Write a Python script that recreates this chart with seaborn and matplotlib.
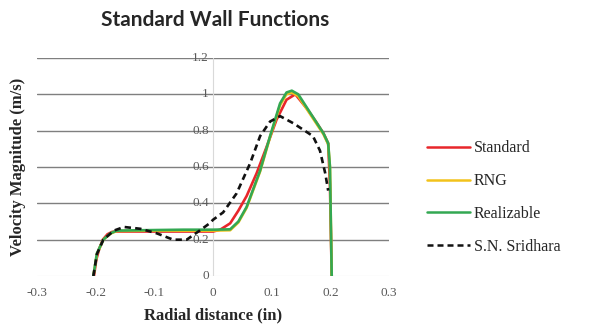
import matplotlib
matplotlib.use("Agg")
import matplotlib.pyplot as plt
import seaborn as sns
import pandas as pd

std_x = [-0.203, -0.199, -0.194, -0.188, -0.18, -0.172, -0.165, -0.1, -0.05, 0.0, 0.012, 0.029,
         0.043, 0.057, 0.074, 0.091, 0.108, 0.125, 0.14, 0.16, 0.175, 0.188, 0.196, 0.199, 0.202]
std_y = [0.0, 0.09, 0.15, 0.2, 0.23, 0.243, 0.245, 0.245, 0.245, 0.245, 0.255, 0.29,
         0.36, 0.44, 0.565, 0.71, 0.86, 0.97, 1.0, 0.92, 0.85, 0.785, 0.73, 0.5, 0.0]

rng_x = [-0.204, -0.198, -0.187, -0.175, -0.164, -0.1, -0.05, 0.0, 0.029, 0.043, 0.057,
         0.08, 0.097, 0.114, 0.125, 0.134, 0.145, 0.188, 0.196, 0.199, 0.202]
rng_y = [0.0, 0.12, 0.2, 0.233, 0.248, 0.25, 0.25, 0.25, 0.252, 0.295, 0.375,
         0.575, 0.765, 0.94, 1.0, 1.01, 0.99, 0.78, 0.725, 0.6, 0.0]

real_x = [-0.204, -0.198, -0.187, -0.175, -0.164, -0.1, -0.05, 0.0, 0.029, 0.043, 0.057,
          0.08, 0.097, 0.114, 0.125, 0.134, 0.145, 0.188, 0.196, 0.199, 0.202]
real_y = [0.0, 0.125, 0.2, 0.235, 0.25, 0.253, 0.255, 0.255, 0.257, 0.3, 0.38,
          0.58, 0.77, 0.95, 1.01, 1.02, 1.0, 0.785, 0.73, 0.6, 0.0]

sri_x = [-0.204, -0.198, -0.187, -0.169, -0.152, -0.124, -0.096, -0.068, -0.045, -0.023, -0.006,
         0.0, 0.017, 0.04, 0.063, 0.08, 0.097, 0.114, 0.137, 0.17, 0.182, 0.191, 0.196]
sri_y = [0.0, 0.12, 0.2, 0.25, 0.27, 0.26, 0.235, 0.2, 0.2, 0.25, 0.29,
         0.31, 0.35, 0.455, 0.62, 0.77, 0.85, 0.88, 0.84, 0.77, 0.69, 0.565, 0.47]

series = ["Standard", "RNG", "Realizable", "S.N. Sridhara"]
colors = ["#e8262b", "#f2c21b", "#33a852", "#111111"]
xs = [std_x, rng_x, real_x, sri_x]
ys = [std_y, rng_y, real_y, sri_y]

x_ticks = [-0.3, -0.2, -0.1, 0, 0.1, 0.2, 0.3]
x_tick_labels = ["-0.3", "-0.2", "-0.1", "0", "0.1", "0.2", "0.3"]
y_ticks = [0, 0.2, 0.4, 0.6, 0.8, 1.0, 1.2]
y_tick_labels = ["0", "0.2", "0.4", "0.6", "0.8", "1", "1.2"]

sns.set_style("white")
serif = ["Liberation Serif", "DejaVu Serif"]

fig = plt.figure(figsize=(5.97, 3.35), dpi=100)
ax = fig.add_axes([0.062, 0.176, 0.59, 0.651])

for y in y_ticks[1:]:
    ax.axhline(y, color="#7f7f7f", lw=1.0, zorder=1)
ax.axhline(0, color="#d0d0d0", lw=0.8, zorder=1)
ax.axvline(0, color="#d9d9d9", lw=0.8, zorder=1)

for name, c, x, y in zip(series, colors, xs, ys):
    df = pd.DataFrame({"x": x, "y": y})
    ls = (0, (2.4, 1.6)) if name == "S.N. Sridhara" else "-"
    sns.lineplot(data=df, x="x", y="y", ax=ax, color=c, lw=1.9, linestyle=ls,
                 sort=False, label=name, zorder=3)

ax.set_xlim(-0.3, 0.3)
ax.set_ylim(0, 1.2)
for s in ax.spines.values():
    s.set_visible(False)
ax.set_xticks(x_ticks)
ax.set_xticklabels(x_tick_labels, fontfamily=serif, fontsize=9.5, color="#595959")
ax.tick_params(axis="x", length=0, pad=8)
ax.set_yticks([])
for v, lab in zip(y_ticks, y_tick_labels):
    ax.annotate(lab, (0, v), xytext=(-3, 0), textcoords="offset points",
                ha="right", va="center", fontsize=9.5, color="#595959",
                family=serif, zorder=2)

ax.set_xlabel("Radial distance (in)", fontfamily=serif, fontsize=12,
              fontweight="bold", color="#262626", labelpad=6)
ax.set_ylabel("Velocity Magnitude (m/s)", fontfamily=serif, fontsize=12,
              fontweight="bold", color="#262626", labelpad=8)

leg = ax.legend(loc="center left", bbox_to_anchor=(1.065, 0.36), frameon=False,
                prop={"family": serif, "size": 11.5}, handlelength=2.75,
                labelspacing=1.05, handletextpad=0.2)
for h in leg.get_lines():
    h.set_linewidth(1.8)

fig.text(0.36, 0.94, "Standard Wall Functions", ha="center", va="center",
         fontsize=15, fontweight="bold", family=["Lato", "DejaVu Sans"], color="#262626")

fig.savefig("out.png", dpi=100)
